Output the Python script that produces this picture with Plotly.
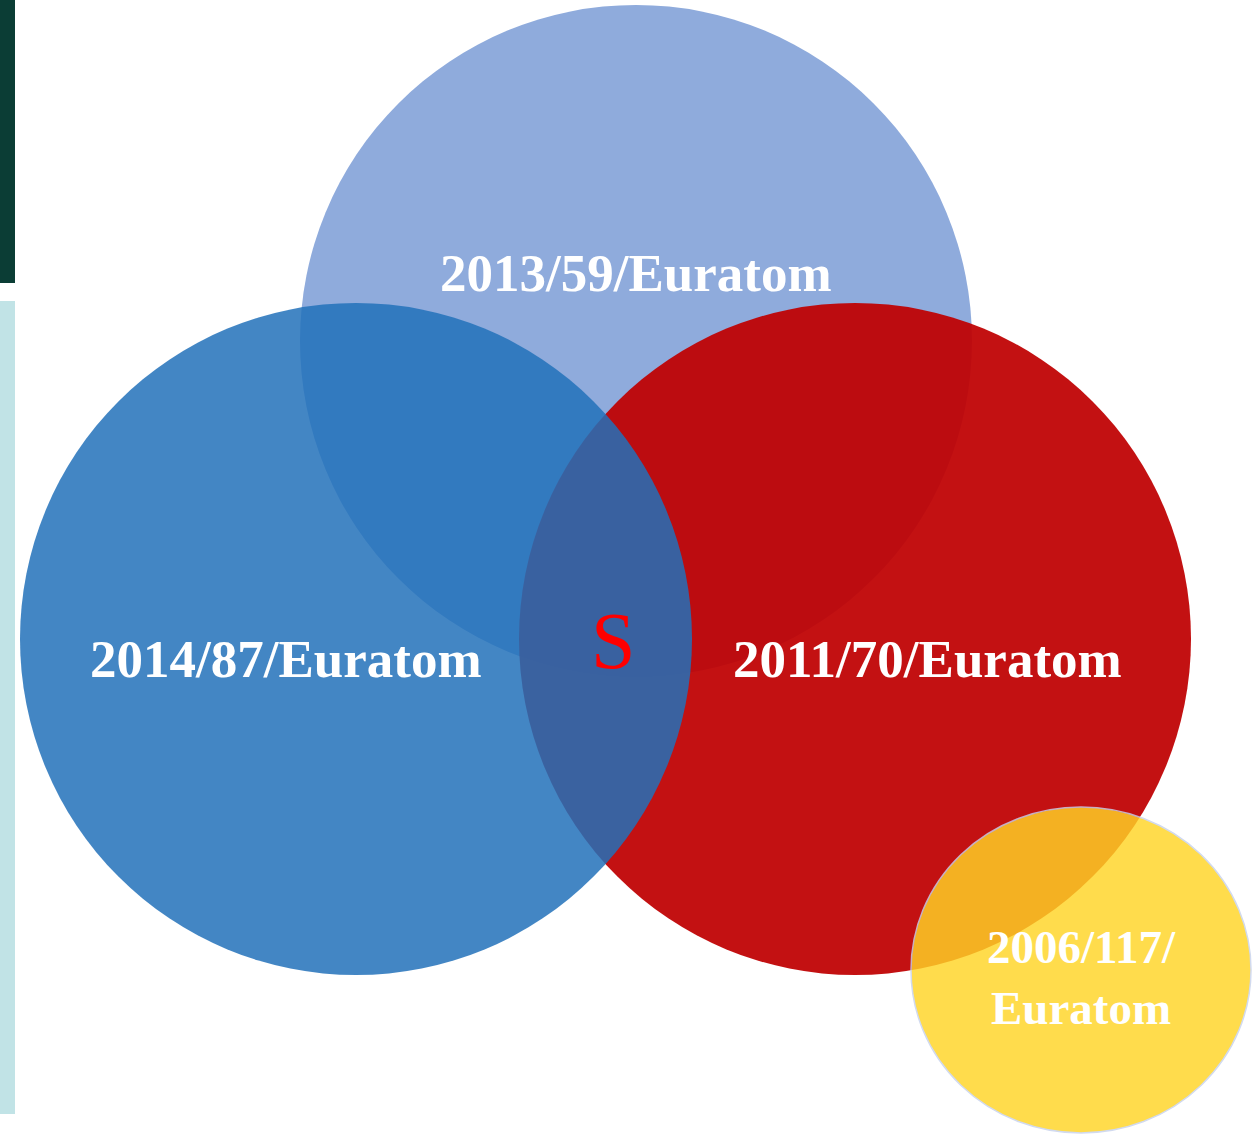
import plotly.graph_objects as go

# ---- data ----
set_labels = ["2013/59/Euratom", "2011/70/Euratom", "2014/87/Euratom", "2006/117/<br>Euratom"]
center_x = [636, 855, 356, 1081]
center_y = [341, 639, 639, 970]
radius_x = [336, 336, 336, 170]
radius_y = [336, 336, 336, 163]
label_x = [636, 927, 286, 1081]
label_y = [273, 659, 659, 977]
center_label = "S"
center_label_pos = (613, 641)

# ---- styles ----
fill_colors = ["#8FABDC", "#BF0203", "#2271BA", "#FFD526"]
opacities = [1.0, 0.94, 0.85, 0.82]
line_colors = [None, None, None, "#C8D2EC"]
label_sizes = [53, 53, 53, 47]

W, H = 1252, 1134
fig = go.Figure()
fig.add_trace(go.Scatter(x=[0, W], y=[0, H], mode="markers",
                         marker=dict(opacity=0), hoverinfo="skip", showlegend=False))

shapes = []
# left decorative bars
shapes.append(dict(type="rect", xref="x", yref="y", x0=0, x1=15, y0=0, y1=283,
                   fillcolor="#0B3D35", line=dict(width=0), layer="below"))
shapes.append(dict(type="rect", xref="x", yref="y", x0=0, x1=15, y0=301, y1=1114,
                   fillcolor="#C1E3E6", line=dict(width=0), layer="below"))

for cx, cy, rx, ry, fc, op, lc in zip(center_x, center_y, radius_x, radius_y,
                                       fill_colors, opacities, line_colors):
    shapes.append(dict(type="circle", xref="x", yref="y",
                       x0=cx - rx, x1=cx + rx, y0=cy - ry, y1=cy + ry,
                       fillcolor=fc, opacity=op,
                       line=dict(width=1.5 if lc else 0, color=lc or fc)))

annotations = []
for lab, lx, ly, sz in zip(set_labels, label_x, label_y, label_sizes):
    annotations.append(dict(x=lx, y=ly, xref="x", yref="y", text=lab, showarrow=False,
                            xanchor="center", yanchor="middle",
                            font=dict(family="Liberation Serif, Times New Roman, serif",
                                      size=sz, color="white", weight="bold")))
annotations.append(dict(x=center_label_pos[0], y=center_label_pos[1], xref="x", yref="y",
                        text=center_label, showarrow=False, xanchor="center", yanchor="middle",
                        font=dict(family="Liberation Serif, Times New Roman, serif",
                                  size=80, color="#FF0000")))

fig.update_layout(
    width=W, height=H,
    margin=dict(l=0, r=0, t=0, b=0),
    paper_bgcolor="white", plot_bgcolor="white",
    xaxis=dict(range=[0, W], visible=False, fixedrange=True),
    yaxis=dict(range=[H, 0], visible=False, fixedrange=True),
    shapes=shapes, annotations=annotations,
    showlegend=False,
)
fig.write_html("out.html", config={"displayModeBar": False},
               post_script="document.body.style.margin='0';document.body.style.overflow='hidden';")
